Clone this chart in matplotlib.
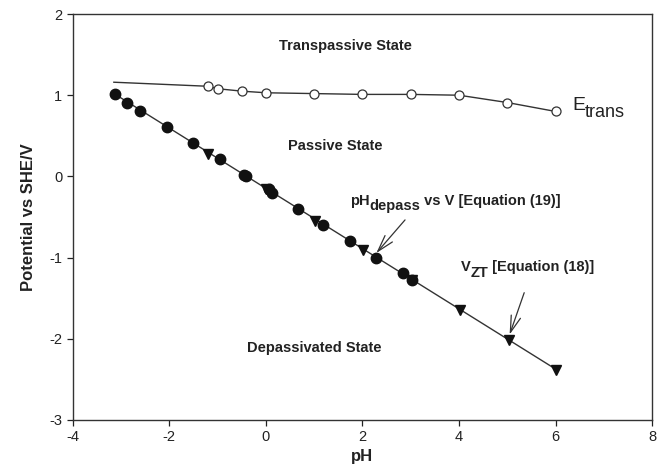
import matplotlib
matplotlib.use("Agg")
import matplotlib.pyplot as plt
from matplotlib.transforms import offset_copy

plt.rcParams['font.family'] = ['Liberation Sans', 'DejaVu Sans']
plt.rcParams['axes.unicode_minus'] = False

# E_trans (open circles)
etrans_ph = [-1.2, -1.0, -0.5, 0.0, 1.0, 2.0, 3.0, 4.0, 5.0, 6.0]
etrans_v = [1.11, 1.08, 1.05, 1.03, 1.02, 1.01, 1.01, 1.00, 0.91, 0.80]
# curve start without marker
etrans_line_ph = [-3.15] + etrans_ph
etrans_line_v = [1.16] + etrans_v

# pH_depass (filled circles)
depass_ph = [-3.12, -2.87, -2.6, -2.04, -1.51, -0.96, -0.45, -0.41, 0.07, 0.12,
             0.66, 1.19, 1.75, 2.29, 2.83, 3.02]
depass_v = [1.01, 0.91, 0.81, 0.61, 0.41, 0.21, 0.02, 0.01, -0.16, -0.20,
            -0.40, -0.60, -0.79, -1.00, -1.19, -1.27]

# V_ZT (filled triangles)
vzt_ph = [-1.19, 0.0, 1.02, 2.02, 3.02, 4.02, 5.03, 6.02]
vzt_v = [0.28, -0.16, -0.55, -0.91, -1.27, -1.64, -2.01, -2.38]

# straight line through the depassivation data
line_ph = [-3.12, 6.02]
line_v = [1.01, -2.38]

fig = plt.figure(figsize=(6.62, 4.75), dpi=100)
ax = fig.add_axes([0.110, 0.1158, 0.875, 0.8547])

ax.plot(line_ph, line_v, color='#333333', lw=1.0, zorder=1)
ax.plot(etrans_line_ph, etrans_line_v, color='#333333', lw=1.0, zorder=1)
ax.plot(etrans_ph, etrans_v, 'o', mfc='white', mec='#333333', mew=0.9, ms=6.5, zorder=3)
ax.plot(depass_ph, depass_v, 'o', color='#111111', ms=7.5, zorder=3)
ax.plot(vzt_ph, vzt_v, 'v', color='#111111', ms=7.5, zorder=3)

ax.set_xlim(-4, 8)
ax.set_ylim(-3, 2)
ax.set_xticks([-4, -2, 0, 2, 4, 6, 8])
ax.set_yticks([-3, -2, -1, 0, 1, 2])
ax.tick_params(direction='out', length=4, width=0.9, labelsize=10.5, colors='#222222',
               top=False, right=False)
for s in ax.spines.values():
    s.set_linewidth(1.0)
    s.set_color('#333333')

ax.set_xlabel('pH', fontsize=12, fontweight='bold', color='#222222', labelpad=3)
ax.set_ylabel('Potential vs SHE/V', fontsize=12, fontweight='bold', color='#222222', labelpad=10)

tkw = dict(fontsize=10.5, fontweight='bold', color='#222222')
ax.text(1.64, 1.61, 'Transpassive State', ha='center', va='center', **tkw)
ax.text(1.43, 0.37, 'Passive State', ha='center', va='center', **tkw)
ax.text(1.0, -2.11, 'Depassivated State', ha='center', va='center', **tkw)

fig.canvas.draw()
renderer = fig.canvas.get_renderer()


def chain(x, y, pieces):
    """pieces: list of (text, dy_points, kwargs). Placed left to right."""
    dx = 0.0
    for txt, dy, kw in pieces:
        tr = offset_copy(ax.transData, fig=fig, x=dx, y=dy, units='points')
        t = ax.text(x, y, txt, transform=tr, ha='left', va='baseline', **kw)
        bb = t.get_window_extent(renderer)
        dx += bb.width * 72.0 / fig.dpi - 0.4


chain(1.75, -0.35, [('pH', 0, tkw), ('depass', -4, tkw), (' vs V [Equation (19)]', 0, tkw)])
chain(4.05, -1.17, [('V', 0, tkw), ('ZT', -4, tkw), (' [Equation (18)]', 0, tkw)])
ekw = dict(fontsize=14, color='#222222')
ekw2 = dict(fontsize=13, color='#222222')
chain(6.35, 0.82, [('E', 0, ekw), ('trans', -5, ekw2)])

akw = dict(arrowstyle='->,head_length=1.2,head_width=0.35', color='#333333', lw=0.9)
ax.annotate('', xy=(2.25, -0.97), xytext=(2.92, -0.51), arrowprops=akw)
ax.annotate('', xy=(5.03, -1.98), xytext=(5.37, -1.40), arrowprops=akw)

fig.savefig('out.png', dpi=100)
